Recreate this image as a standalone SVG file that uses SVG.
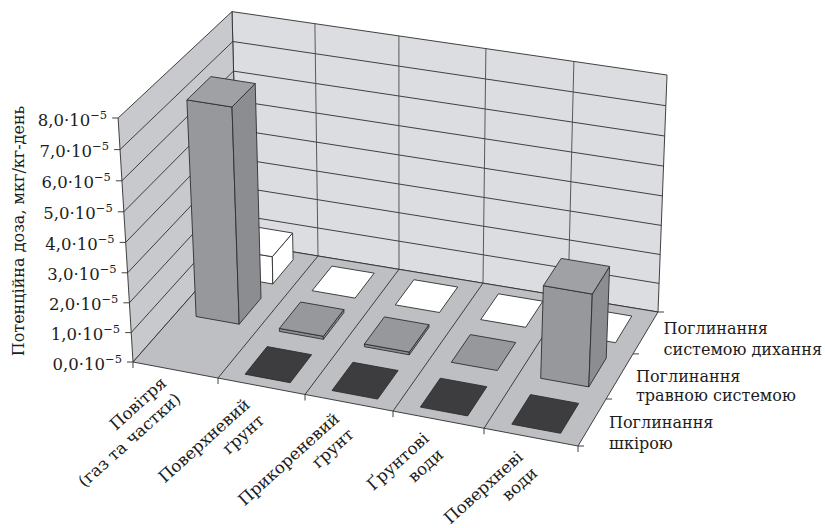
<svg xmlns="http://www.w3.org/2000/svg" width="825" height="528" viewBox="0 0 825 528">
<style>
.ln{stroke:#2e2e2e;stroke-width:0.9;fill:none}
.vl{stroke:#4a4a4a;stroke-width:0.9;fill:none}
.edge{stroke:#2e2e2e;stroke-width:0.9;stroke-linejoin:round}
.bw{fill:#dcdde0}
.lw{fill:#c8c9cc}
.fl{fill:#bebfc2}
.wh{fill:#ffffff}
.bk{fill:#3d3d3f}
.gf{fill:#97989b}
.gs{fill:#8c8d90}
.gt{fill:#a0a1a4}
text{font-family:"DejaVu Serif","Liberation Serif",serif;fill:#1c1c1c}
.tk{font-size:16.5px;text-anchor:end}
.cat{font-size:16.6px;text-anchor:end}
.row{font-size:16px}
</style>
<g id="walls">
<polygon class="bw edge" points="238,242.8 658,312 667,75 232,11.6"/>
<polygon class="lw edge" points="133,362 238,242.8 232,11.6 118.1,118"/>
<g id="backwall-grid">
<path class="ln" d="M237.3,214.9L659.1,283.4M236.5,186.7L660.2,254.5M235.8,158.3L661.3,225.4M235.1,129.5L662.4,195.9M234.3,100.5L663.5,166.1M233.5,71.1L664.7,136M232.8,41.5L665.8,105.7"/>
<path class="vl" d="M318,256L314.9,23.6M399,269.3L398.9,35.8M483,283.2L485.9,48.5M568,297.2L573.9,61.3"/>
</g>
<g id="leftwall-grid">
<path class="ln" d="M131.2,332.6L237.3,214.9M129.4,302.8L236.5,186.7M127.6,272.8L235.8,158.3M125.7,242.4L235.1,129.5M123.8,211.8L234.3,100.5M121.9,180.8L233.5,71.1M120,149.6L232.8,41.5"/>
</g>
</g>
<g id="floor">
<polygon class="fl edge" points="133,362 578,446 658,312 238,242.8"/>
<path class="ln" d="M218,378L318,256M305,394.5L399,269.3M393,411.1L483,283.2M484,428.3L568,297.2"/>
</g>
<g id="ticks">
<path class="ln" d="M127,362H133M125.2,332.6H131.2M123.4,302.8H129.4M121.6,272.8H127.6M119.7,242.4H125.7M117.8,211.8H123.8M115.9,180.8H121.9M114,149.6H120M112.1,118H118.1"/>
<path class="ln" d="M133,362V368M218,378V384M305,394.5V400.5M393,411.1V417.1M484,428.3V434.3M578,446V452"/>
<path class="ln" d="M578,446H584M606.1,399H612.1M633,353.9H639M658,312H664"/>
</g>
<g id="y-labels">
<text class="tk" x="122" y="369.5">0,0·10<tspan dy="-7" font-size="11.5">−5</tspan></text>
<text class="tk" x="120.2" y="340">1,0·10<tspan dy="-7" font-size="11.5">−5</tspan></text>
<text class="tk" x="118.4" y="310.3">2,0·10<tspan dy="-7" font-size="11.5">−5</tspan></text>
<text class="tk" x="116.6" y="280.3">3,0·10<tspan dy="-7" font-size="11.5">−5</tspan></text>
<text class="tk" x="114.7" y="250">4,0·10<tspan dy="-7" font-size="11.5">−5</tspan></text>
<text class="tk" x="112.8" y="219.3">5,0·10<tspan dy="-7" font-size="11.5">−5</tspan></text>
<text class="tk" x="110.9" y="188.3">6,0·10<tspan dy="-7" font-size="11.5">−5</tspan></text>
<text class="tk" x="109" y="157.1">7,0·10<tspan dy="-7" font-size="11.5">−5</tspan></text>
<text class="tk" x="107.1" y="125.5">8,0·10<tspan dy="-7" font-size="11.5">−5</tspan></text>
<text id="y-title" font-size="16" text-anchor="middle" transform="translate(24,231) rotate(-90)">Потенційна доза, мкг/кг-день</text>
</g>
<g id="back-row">
<g id="bar-air-resp">
<polygon class="wh edge" points="230.6,276.7 272.8,284 272.3,256.7 230,249.7"/>
<polygon class="wh edge" points="272.8,284 293.1,259.7 292.6,233 272.3,256.7"/>
<polygon class="wh edge" points="230,249.7 272.3,256.7 292.6,233 250.8,226.1"/>
</g>
<polygon id="sq-soil-resp" class="wh edge" points="312.1,290.7 355.1,298.1 374.2,273.1 331.9,266.1"/>
<polygon id="sq-root-resp" class="wh edge" points="395.3,304.9 439.5,312.5 457.7,287 413.9,279.7"/>
<polygon id="sq-ground-resp" class="wh edge" points="480.7,319.6 525.7,327.3 542.8,301.2 498.4,293.8"/>
<polygon id="sq-surf-resp" class="wh edge" points="568.3,334.6 615.6,342.7 631.8,316 584.9,308.2"/>
</g>
<g id="middle-row">
<g id="bar-air-dig">
<polygon class="gf edge" points="196.1,316.5 239.2,324.2 232,107 186.9,99.9"/>
<polygon class="gs edge" points="239.2,324.2 261,298.2 255.2,83.5 232,107"/>
<polygon class="gt edge" points="186.9,99.9 232,107 255.2,83.5 210.9,76.6"/>
</g>
<g id="slab-soil-dig">
<polygon class="gs edge" points="279.4,331.4 323.4,339.3 323.4,336.3 279.4,328.4"/>
<polygon class="gs edge" points="323.4,339.3 343.9,312.6 343.9,309.6 323.4,336.3"/>
<polygon class="gf edge" points="279.4,328.4 323.4,336.3 343.9,309.6 300.6,302"/>
</g>
<g id="slab-root-dig">
<polygon class="gs edge" points="364.4,346.7 409.3,354.8 409.3,352.1 364.4,344"/>
<polygon class="gs edge" points="409.3,354.8 428.9,327.4 428.9,324.7 409.3,352.1"/>
<polygon class="gf edge" points="364.4,344 409.3,352.1 428.9,324.7 384.4,316.9"/>
</g>
<polygon id="sq-ground-dig" class="gf edge" points="451.3,362.3 497.3,370.5 515.7,342.5 470.3,334.6"/>
<g id="bar-surf-dig">
<polygon class="gf edge" points="540.7,378.3 588.8,386.9 592.3,294.1 543.4,285.7"/>
<polygon class="gs edge" points="588.8,386.9 606.2,358.2 609.6,266.4 592.3,294.1"/>
<polygon class="gt edge" points="543.4,285.7 592.3,294.1 609.6,266.4 561.2,258.4"/>
</g>
</g>
<g id="front-row">
<polygon id="sq-soil-skin" class="bk edge" points="245.1,374.2 290.2,382.7 311.6,354.7 267.2,346.6"/>
<polygon id="sq-root-skin" class="bk edge" points="332,390.5 377.6,399.1 398.1,370.5 352.9,362.3"/>
<polygon id="sq-ground-skin" class="bk edge" points="420.4,407.1 467.6,415.9 486.8,386.7 440.3,378.2"/>
<polygon id="sq-surf-skin" class="bk edge" points="511.8,424.2 560.6,433.3 578.7,403.4 530.5,394.6"/>
</g>
<g id="category-labels">
<text class="cat" transform="translate(167.5,384.5) rotate(-42)"><tspan x="0" y="0">Повітря</tspan><tspan x="0" y="21.5">(газ та частки)</tspan></text>
<text class="cat" transform="translate(251,406) rotate(-42)"><tspan x="0" y="0">Поверхневий</tspan><tspan x="0" y="21.5">ґрунт</tspan></text>
<text class="cat" transform="translate(340.5,420) rotate(-42)"><tspan x="0" y="0">Прикореневий</tspan><tspan x="0" y="21.5">ґрунт</tspan></text>
<text class="cat" transform="translate(430,440) rotate(-42)"><tspan x="0" y="0">Ґрунтові</tspan><tspan x="0" y="21.5">води</tspan></text>
<text class="cat" transform="translate(524,458.5) rotate(-42)"><tspan x="0" y="0">Поверхневі</tspan><tspan x="0" y="21.5">води</tspan></text>
</g>
<g id="series-labels">
<text class="row" x="663.5" y="334">Поглинання</text>
<text class="row" x="663.5" y="354.5">системою дихання</text>
<text class="row" x="636" y="381.5">Поглинання</text>
<text class="row" x="636" y="401">травною системою</text>
<text class="row" x="609" y="428">Поглинання</text>
<text class="row" x="609" y="448.5">шкірою</text>
</g>
</svg>
